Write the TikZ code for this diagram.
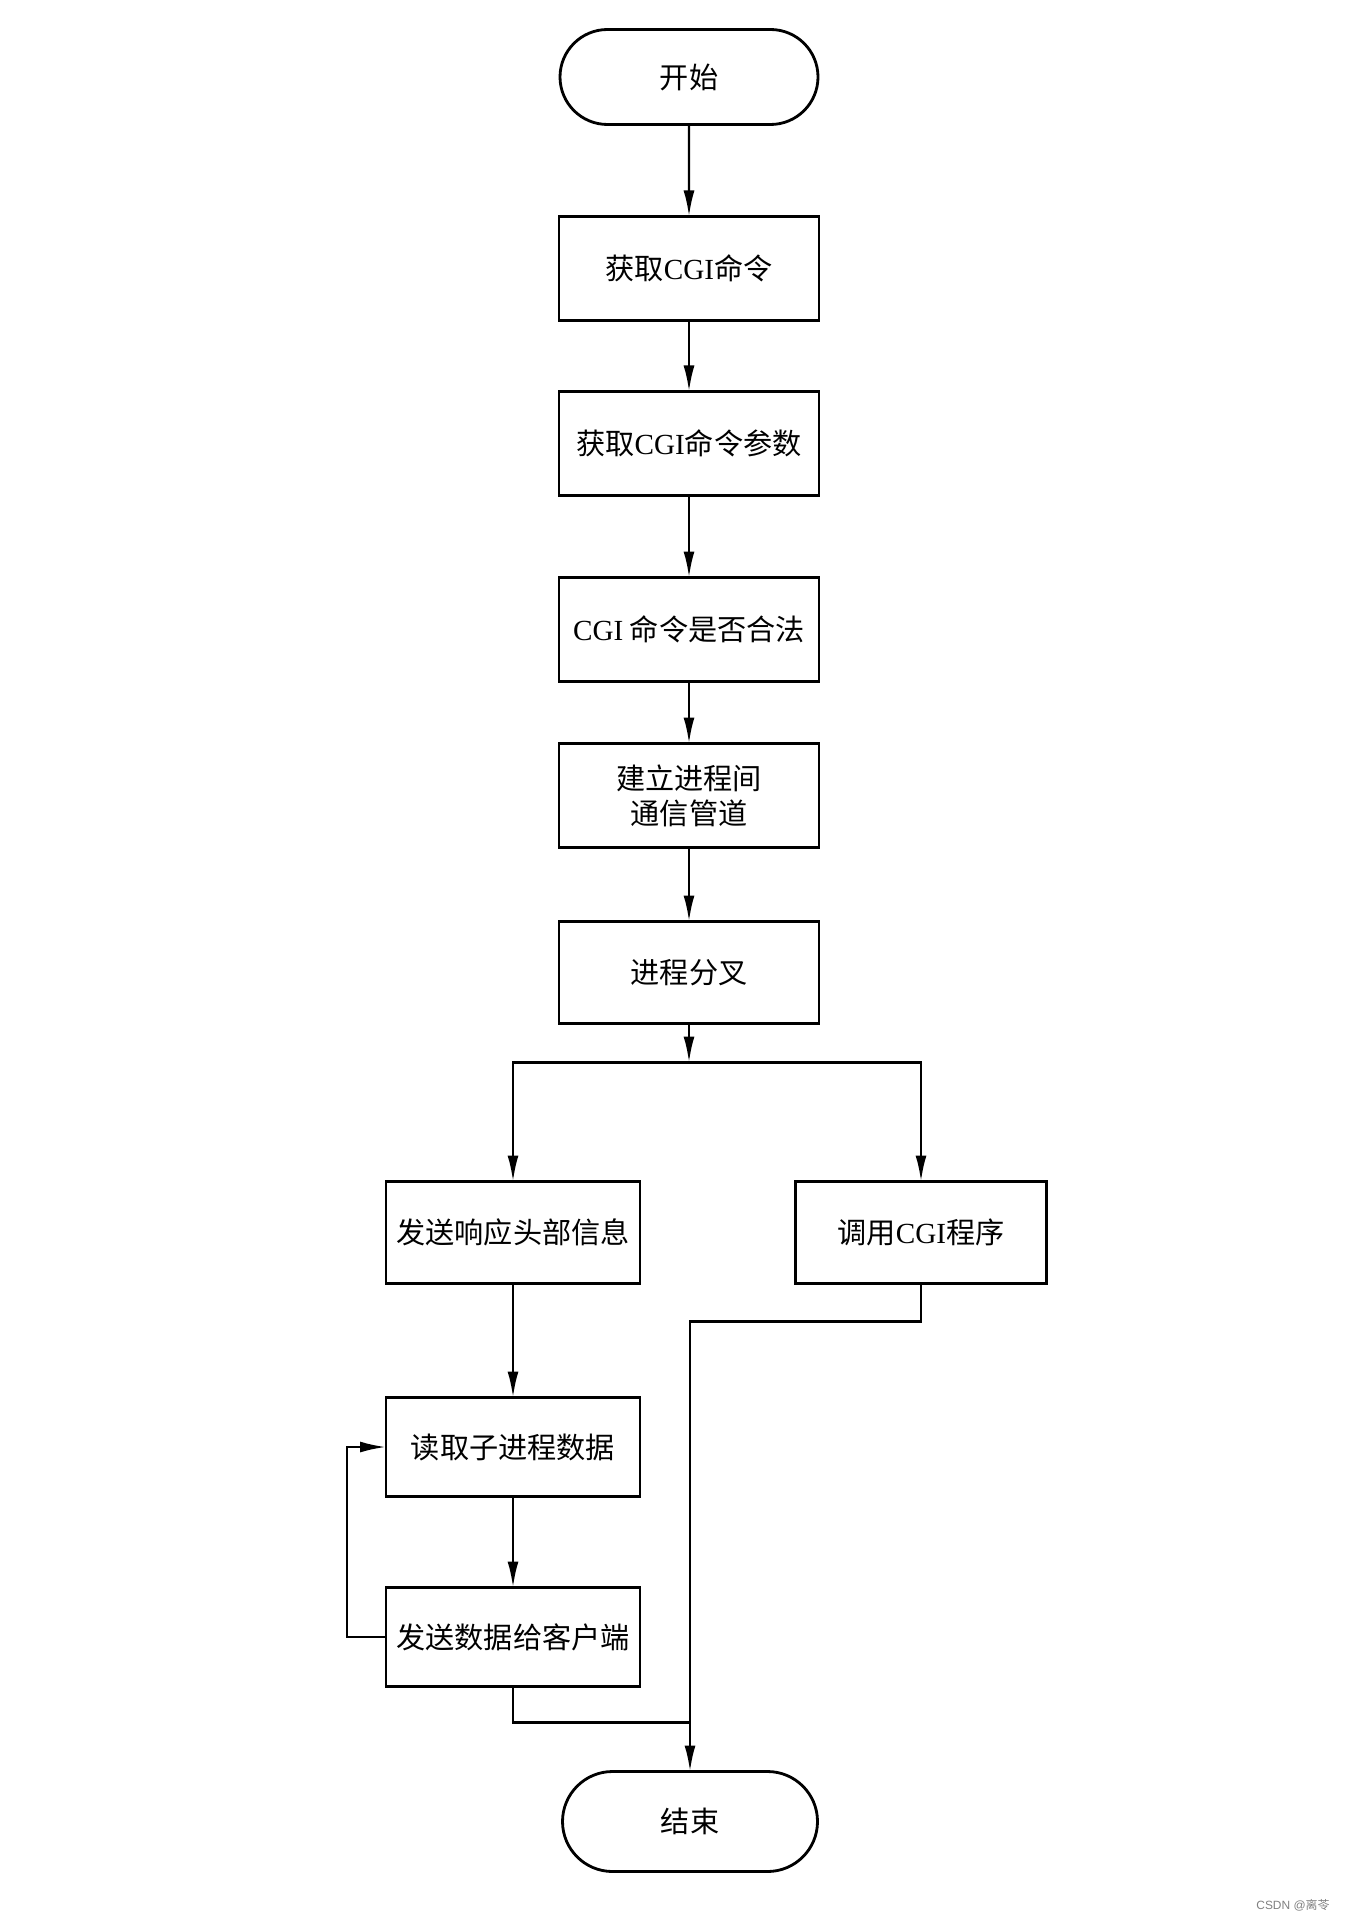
\documentclass[tikz,border=0pt]{standalone}
\usepackage{fontspec}
\usepackage{tikz}
\usetikzlibrary{shapes.misc, arrows.meta, positioning}
\setmainfont{Liberation Serif}
\newfontfamily\cjk{Noto Sans CJK SC}
\newfontfamily\markfont{Liberation Sans}
\newcommand{\cgi}{{\rmfamily CGI}}

\begin{document}
\begin{tikzpicture}[
  box/.style={draw, line width=0.8pt, minimum width=2.6cm, minimum height=1.04cm,
               inner sep=0pt, outer sep=0pt, align=center, font=\cjk\fontsize{8.3}{10}\selectfont},
  lowbox/.style={box, minimum width=2.54cm},
  term/.style={box, rounded rectangle, minimum width=2.58cm, minimum height=0.95cm},
  arr/.style={-{Latex[length=2.6mm, width=1.1mm]}, line width=0.7pt},
  line/.style={line width=0.7pt},
]
\useasboundingbox (0,0) rectangle (13.54,-19.2);

% Main column
\node[term] (start) at (6.89,-0.77) {开始};
\node[box, below=0.92cm of start]   (getcmd)  {获取\cgi 命令};
\node[box, below=0.71cm of getcmd]  (getarg)  {获取\cgi 命令参数};
\node[box, below=0.82cm of getarg]  (check)   {\cgi\ 命令是否合法};
\node[box, below=0.62cm of check]   (pipe)    {建立进程间\\通信管道};
\node[box, below=0.74cm of pipe, minimum height=1.02cm] (fork) {进程分叉};

% Two branches
\node[lowbox, below=1.58cm of fork, xshift=-1.76cm, minimum height=1.02cm] (sendhdr) {发送响应头部信息};
\node[lowbox, below=1.58cm of fork, xshift=2.32cm, minimum width=2.51cm, minimum height=1.02cm] (callcgi) {调用\cgi 程序};
\node[lowbox, below=1.14cm of sendhdr, minimum height=0.99cm] (readchild) {读取子进程数据};
\node[lowbox, below=0.91cm of readchild, minimum height=0.99cm] (senddata) {发送数据给客户端};

% End
\node[term, below=0.85cm of senddata, xshift=1.77cm, minimum width=2.55cm, minimum height=1.0cm] (endnode) {结束};

\coordinate[below=0.39cm of fork] (split);
\coordinate[above=0.49cm of endnode] (merge);

% Arrows - main column
\draw[arr] (start)  -- (getcmd);
\draw[arr] (getcmd) -- (getarg);
\draw[arr] (getarg) -- (check);
\draw[arr] (check)  -- (pipe);
\draw[arr] (pipe)   -- (fork);
\draw[arr] (fork)   -- (split);

% Arrows - branches
\draw[arr] (split) -| (sendhdr);
\draw[arr] (split) -| (callcgi);
\draw[arr] (sendhdr)   -- (readchild);
\draw[arr] (readchild) -- (senddata);
\draw[arr] (senddata.west) -- ++(-0.39,0) |- (readchild.west);
\draw[line] (senddata.south) |- (merge);
\draw[arr] (callcgi.south) -- ++(0,-0.38) -| (endnode.north);

% Watermark
\node[font=\markfont\fontsize{3.4}{4}\selectfont, text=gray, anchor=east] (mark) at (13.42,-19.05) {CSDN @{\cjk 离苓}};

\end{tikzpicture}
\end{document}
